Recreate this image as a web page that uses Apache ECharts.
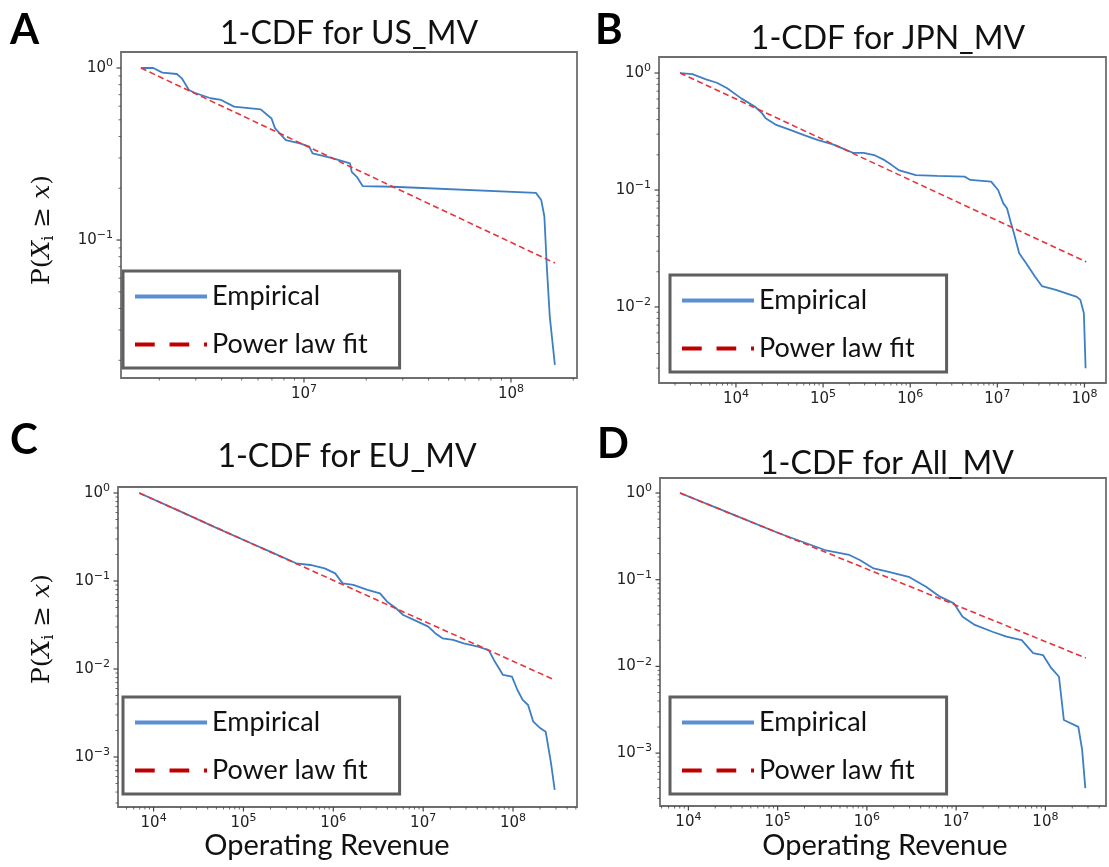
<!DOCTYPE html>
<html>
<head>
<meta charset="utf-8">
<title>1-CDF</title>
<script src="https://cdn.jsdelivr.net/npm/echarts@6.0.0/dist/echarts.min.js"></script>
<style>
  html, body { margin: 0; padding: 0; background: #fff; }
  #main { width: 1109px; height: 867px; }
</style>
</head>
<body>
<div id="main"></div>
<script>
// A: US_MV
const usEmpX = [1.63e6, 1.87e6, 2.07e6, 2.43e6, 2.57e6, 2.78e6, 2.96e6, 3.54e6, 3.98e6, 4.59e6, 6.18e6, 6.97e6, 7.24e6, 8.17e6, 9.57e6,
  1.06e7, 1.10e7, 1.37e7, 1.67e7, 1.70e7, 1.80e7, 1.92e7, 2.69e7, 1.32e8, 1.40e8, 1.45e8, 1.49e8, 1.54e8, 1.63e8];
const usEmpY = [1, 1, 0.94, 0.923, 0.871, 0.745, 0.718, 0.667, 0.652, 0.596, 0.575, 0.509, 0.447, 0.381, 0.365,
  0.349, 0.319, 0.299, 0.279, 0.249, 0.233, 0.206, 0.204, 0.188, 0.171, 0.137, 0.07, 0.0358, 0.0188];
const usFitX = [1.63e6, 1.63e8];
const usFitY = [1, 0.0735];

// B: JPN_MV
const jpnEmpX = [2.28e3, 3.16e3, 4.54e3, 6.03e3, 7.94e3, 1.15e4, 1.66e4, 2.0e4, 2.19e4, 2.9e4, 4.19e4, 6.04e4, 8.77e4, 1.27e5, 1.67e5,
  2.2e5, 2.92e5, 3.85e5, 5.08e5, 6.1e5, 7.35e5, 1.16e6, 2.03e6, 4.25e6, 4.89e6, 8.49e6, 1.02e7, 1.17e7, 1.29e7, 1.42e7,
  1.55e7, 1.78e7, 2.14e7, 2.7e7, 3.24e7, 4.7e7, 8.17e7, 8.97e7, 9.84e7, 1.03e8];
const jpnEmpY = [1, 0.979, 0.883, 0.826, 0.74, 0.607, 0.515, 0.452, 0.41, 0.36, 0.326, 0.295, 0.267, 0.247, 0.227,
  0.208, 0.208, 0.199, 0.18, 0.164, 0.148, 0.134, 0.132, 0.13, 0.122, 0.118, 0.1, 0.0769, 0.0697, 0.0536,
  0.0427, 0.0288, 0.0236, 0.0182, 0.0151, 0.014, 0.0122, 0.0115, 0.00883, 0.00299];
const jpnFitX = [2.28e3, 1.05e8];
const jpnFitY = [1, 0.0243];

// C: EU_MV
const euEmpX = [6.93e3, 1.9e4, 4.72e4, 1.18e5, 2.04e5, 3.86e5, 5.57e5, 8.02e5, 1.05e6, 1.27e6, 1.67e6, 2.4e6, 3.31e6, 3.97e6, 4.99e6,
  6.0e6, 7.89e6, 1.14e7, 1.36e7, 1.64e7, 2.15e7, 2.83e7, 4.08e7, 5.37e7, 6.15e7, 7.74e7, 9.73e7, 1.12e8, 1.28e8, 1.47e8,
  1.68e8, 2.02e8, 2.31e8, 2.65e8, 2.91e8];
const euEmpY = [1, 0.63, 0.412, 0.272, 0.213, 0.159, 0.152, 0.139, 0.122, 0.094, 0.0902, 0.0791, 0.0724, 0.0582, 0.049,
  0.0411, 0.0361, 0.0303, 0.0255, 0.0223, 0.0214, 0.0196, 0.0179, 0.0164, 0.0126, 0.00855, 0.00818, 0.00577, 0.00445, 0.0039,
  0.00252, 0.00212, 0.00194, 0.000847, 0.000422];
const euFitX = [6.93e3, 2.91e8];
const euFitY = [1, 0.0075];

// D: All_MV
const allEmpX = [8.05e3, 2.72e4, 1.05e5, 3.38e5, 6.35e5, 8.32e5, 1.19e6, 1.71e6, 2.94e6, 4.6e6, 6.59e6, 9.46e6, 1.18e7, 1.62e7, 2.55e7,
  3.66e7, 5.43e7, 7.29e7, 9.4e7, 1.16e8, 1.42e8, 1.61e8, 2.34e8, 2.58e8, 2.8e8];
const allEmpY = [1, 0.601, 0.341, 0.22, 0.193, 0.169, 0.135, 0.124, 0.108, 0.083, 0.0637, 0.0533, 0.0375, 0.0301, 0.0251,
  0.022, 0.0201, 0.0142, 0.0135, 0.0096, 0.0076, 0.00241, 0.00201, 0.00109, 0.000395];
const allFitX = [8.05e3, 2.84e8];
const allFitY = [1, 0.0125];

const panelLetters = ['A', 'B', 'C', 'D'];
const panelTitles = ['1-CDF for US_MV', '1-CDF for JPN_MV', '1-CDF for EU_MV', '1-CDF for All_MV'];
const legendNames = ['Empirical', 'Power law fit'];
const xName = 'Operating Revenue';

// layout of each panel: grid box, log10 axis ranges, legend corner, text anchors
const panels = [
  { box: [121, 52, 456, 326], xr: [6.116, 8.319], yr: [-1.802, 0.093], emp: [usEmpX, usEmpY], fit: [usFitX, usFitY],
    legend: [123, 271], letter: [10, 30], title: [349, 34], yLabel: [42, 230], xLabel: null },
  { box: [659, 57, 456, 326], xr: [3.117, 8.247], yr: [-2.65, 0.137], emp: [jpnEmpX, jpnEmpY], fit: [jpnFitX, jpnFitY],
    legend: [670, 275], letter: [595, 30], title: [888, 39], yLabel: null, xLabel: null },
  { box: [118, 487, 459, 320], xr: [3.604, 8.712], yr: [-3.568, 0.068], emp: [euEmpX, euEmpY], fit: [euFitX, euFitY],
    legend: [123, 697], letter: [10, 440], title: [347, 457], yLabel: [42, 629], xLabel: [327, 846] },
  { box: [660, 478, 456, 328], xr: [3.682, 8.679], yr: [-3.61, 0.173], emp: [allEmpX, allEmpY], fit: [allFitX, allFitY],
    legend: [670, 697], letter: [597, 444], title: [887, 464], yLabel: null, xLabel: [885, 846] }
];

// "10" with a raised exponent, only at whole decades
function powLabel(v) {
  const e = Math.log10(v);
  const r = Math.round(e);
  if (Math.abs(e - r) > 1e-6) return '';
  return '{b|10}{s|' + String(r).replace('-', '\u2212') + '}';
}

const tickRich = {
  b: { fontFamily: 'DejaVu Sans', fontSize: 15, color: '#222', lineHeight: 20 },
  s: { fontFamily: 'DejaVu Sans', fontSize: 11, color: '#222', verticalAlign: 'top', lineHeight: 11 }
};

// major (m = 1) and minor (m = 2..9) tick values inside a log10 range
function logTicks(lo, hi) {
  const out = [];
  for (let e = Math.floor(lo); e <= Math.ceil(hi); e++) {
    for (let m = 1; m <= 9; m++) {
      const v = m * Math.pow(10, e);
      const l = Math.log10(v);
      if (l > lo + 1e-9 && l < hi - 1e-9) out.push([v, m === 1 ? 0 : 1]);
    }
  }
  return out;
}

function renderTick(params, api) {
  const kind = api.value(2);
  const p = api.coord([api.value(0), api.value(1)]);
  const cs = params.coordSys;
  const major = kind % 2 === 0;
  const len = major ? 4.5 : 2.5;
  const style = { stroke: '#444', lineWidth: major ? 1.2 : 0.8 };
  if (kind < 2) {
    const yb = cs.y + cs.height;
    return { type: 'line', shape: { x1: p[0], y1: yb, x2: p[0], y2: yb + len }, style: style };
  }
  return { type: 'line', shape: { x1: cs.x, y1: p[1], x2: cs.x - len, y2: p[1] }, style: style };
}

const pairs = (xs, ys) => xs.map((x, i) => [x, ys[i]]);

const dashIcon = 'path://M0,0H20V4H0Z M35,0H55V4H35Z M70,0H73V4H70Z';

const grids = [], xAxes = [], yAxes = [], series = [], legends = [], graphics = [];

panels.forEach((p, i) => {
  grids.push({
    left: p.box[0], top: p.box[1], width: p.box[2], height: p.box[3],
    show: true, borderColor: '#6e6e6e', borderWidth: 1.8, containLabel: false
  });
  xAxes.push({
    type: 'log', gridIndex: i,
    min: Math.pow(10, p.xr[0]), max: Math.pow(10, p.xr[1]),
    axisLine: { show: false }, axisTick: { show: false }, splitLine: { show: false },
    axisLabel: { formatter: powLabel, rich: tickRich, margin: 6 }
  });
  yAxes.push({
    type: 'log', gridIndex: i,
    min: Math.pow(10, p.yr[0]), max: Math.pow(10, p.yr[1]),
    axisLine: { show: false }, axisTick: { show: false }, splitLine: { show: false },
    axisLabel: { formatter: powLabel, rich: tickRich, margin: 8 }
  });

  series.push({
    name: legendNames[0], type: 'line', xAxisIndex: i, yAxisIndex: i,
    data: pairs(p.emp[0], p.emp[1]), symbol: 'none',
    lineStyle: { color: '#3d7fc4', width: 1.8 }, itemStyle: { color: '#3d7fc4' }, z: 3
  });
  series.push({
    name: legendNames[1], type: 'line', xAxisIndex: i, yAxisIndex: i,
    data: pairs(p.fit[0], p.fit[1]), symbol: 'none',
    lineStyle: { color: '#e8333a', width: 1.6, type: [6, 3.5] }, itemStyle: { color: '#e8333a' }, z: 4
  });

  const xRef = Math.pow(10, (p.xr[0] + p.xr[1]) / 2);
  const yRef = Math.pow(10, (p.yr[0] + p.yr[1]) / 2);
  const tickData = logTicks(p.xr[0], p.xr[1]).map(t => [t[0], yRef, t[1]])
    .concat(logTicks(p.yr[0], p.yr[1]).map(t => [xRef, t[0], t[1] + 2]));
  series.push({
    type: 'custom', xAxisIndex: i, yAxisIndex: i, data: tickData,
    renderItem: renderTick, clip: false, silent: true, z: 5
  });

  legends.push({
    left: p.legend[0], top: p.legend[1], orient: 'vertical',
    padding: [12, 32, 10, 12], itemGap: 21, itemWidth: 72, itemHeight: 4,
    borderColor: '#5f5f5f', borderWidth: 3, backgroundColor: '#fff', selectedMode: false,
    textStyle: { fontFamily: 'Lato', fontSize: 27, color: '#111', lineHeight: 27 },
    data: [
      { name: legendNames[0], icon: 'rect', itemStyle: { color: '#5b8fd3' } },
      { name: legendNames[1], icon: dashIcon, itemStyle: { color: '#c00000' } }
    ]
  });

  graphics.push({
    type: 'text', x: p.letter[0], y: p.letter[1],
    style: { text: panelLetters[i], fontFamily: 'Lato', fontWeight: 'bold', fontSize: 42, fill: '#000',
      align: 'left', verticalAlign: 'middle', textAlign: 'left', textVerticalAlign: 'middle' }
  });
  graphics.push({
    type: 'text', x: p.title[0], y: p.title[1],
    style: { text: panelTitles[i], fontFamily: 'Lato', fontSize: 32, fill: '#111',
      align: 'center', verticalAlign: 'middle', textAlign: 'center', textVerticalAlign: 'middle' }
  });
  if (p.yLabel) {
    graphics.push({
      type: 'text', x: p.yLabel[0], y: p.yLabel[1], rotation: Math.PI / 2,
      style: {
        text: '{n|P(}{i|X}{s|i}{n| ≥ }{i|x}{n|)}',
        align: 'center', verticalAlign: 'middle', textAlign: 'center', textVerticalAlign: 'middle',
        fill: '#111',
        rich: {
          n: { fontFamily: 'DejaVu Serif', fontSize: 25, lineHeight: 30, fill: '#111' },
          i: { fontFamily: 'DejaVu Serif', fontStyle: 'italic', fontSize: 25, lineHeight: 30, fill: '#111' },
          s: { fontFamily: 'DejaVu Serif', fontSize: 16, verticalAlign: 'bottom', fill: '#111' }
        }
      }
    });
  }
  if (p.xLabel) {
    graphics.push({
      type: 'text', x: p.xLabel[0], y: p.xLabel[1],
      style: { text: xName, fontFamily: 'Lato', fontSize: 29, fill: '#111',
        align: 'center', verticalAlign: 'middle', textAlign: 'center', textVerticalAlign: 'middle' }
    });
  }
});

const chart = echarts.init(document.getElementById('main'), null, { renderer: 'canvas' });
chart.setOption({
  animation: false,
  backgroundColor: '#fff',
  grid: grids,
  xAxis: xAxes,
  yAxis: yAxes,
  legend: legends,
  series: series,
  graphic: graphics
});
</script>
</body>
</html>
